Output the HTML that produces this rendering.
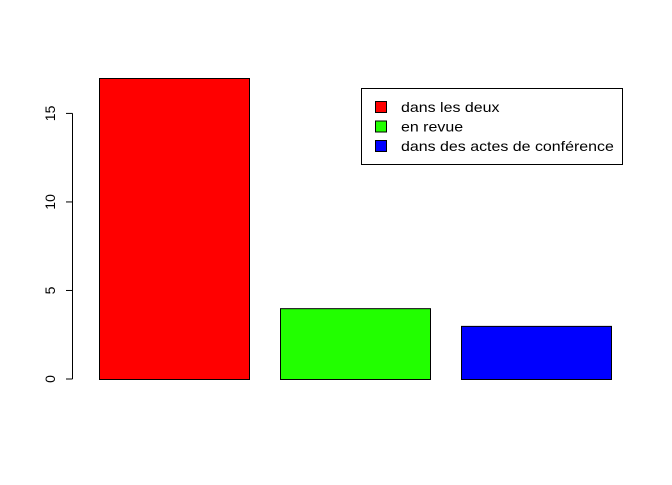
<!DOCTYPE html>
<html><head><meta charset="utf-8"><style>
body{margin:0;background:#fff}
svg text{font-family:"Liberation Sans",Arial,sans-serif;font-size:14px;fill:#000}
</style></head><body>
<svg id="chart" width="672" height="480"></svg>
<script>
const categories=["dans les deux","en revue","dans des actes de conférence"];
const values=[17,4,3];
const colors=["#ff0000","#22ff00","#0000ff"];
const yTicks=[0,5,10,15];
const yTickLabels=["0","5","10","15"];
const svg=document.getElementById('chart');
const NS='http://www.w3.org/2000/svg';
function y(v){return 379-v*(301/17);}
function xBar(i){return 99+i*181;}
function mk(t,a,p){const e=document.createElementNS(NS,t);for(const k in a)e.setAttribute(k,a[k]);(p||svg).appendChild(e);return e;}
values.forEach((v,i)=>{
 const r=mk('rect',{x:xBar(i)+0.5,y:y(v)+0.5,width:150,height:y(0)-y(v),fill:colors[i],stroke:'#000','stroke-width':1});
 
 
});
const ax=mk('g',{});


mk('line',{x1:72.5,x2:72.5,y1:y(0),y2:y(15),stroke:'#000'},ax);
yTicks.forEach((t,i)=>{
 mk('line',{x1:66,x2:72.5,y1:y(t),y2:y(t),stroke:'#000'},ax);
 const tx=mk('text',{x:0,y:0,transform:`translate(55,${y(t)}) rotate(-90)`,'text-anchor':'middle'},ax);
 tx.textContent=yTickLabels[i];
 
 
});
const lg=mk('g',{});


mk('rect',{x:361.5,y:88.5,width:261,height:76,fill:'#fff',stroke:'#000'},lg);
categories.forEach((c,i)=>{
 const yy=107+i*19.5;
 mk('rect',{x:375.5,y:yy-5.5,width:11,height:11,fill:colors[i],stroke:'#000'},lg);
 const t=mk('text',{x:401,y:yy+5},lg);
 t.textContent=c;
 
 
 const w=t.getComputedTextLength();
 t.setAttribute('textLength',w*212/186);
 t.setAttribute('lengthAdjust','spacingAndGlyphs');
});
</script>
</body></html>
